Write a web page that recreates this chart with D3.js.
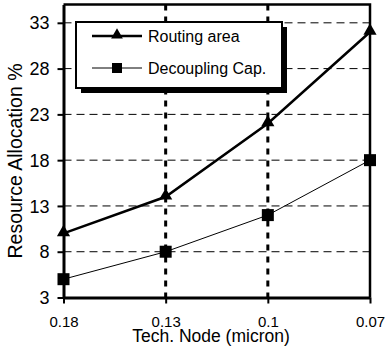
<!DOCTYPE html>
<html>
<head>
<meta charset="UTF-8">
<title></title>
<style>
  body{ margin:0; background:#fff; }
  svg text{ font-family: 'Liberation Sans', Arial, sans-serif; fill:#000; }
  .grid-h line{ stroke:#000; stroke-width:1; stroke-dasharray:8,5; }
  .grid-v line{ stroke:#000; stroke-width:3; stroke-dasharray:6,6; }
</style>
</head>
<body>
<script src="https://d3js.org/d3.v7.min.js"></script>
<script>
var nodes = ["0.18", "0.13", "0.1", "0.07"];
var routingArea = [10, 14, 22, 32];
var decouplingCap = [5, 8, 12, 18];
var yTicks = [3, 8, 13, 18, 23, 28, 33];
var seriesNames = ["Routing area", "Decoupling Cap."];

var width = 386, height = 352;
var plotLeft = 63.5, plotRight = 370, plotTop = 4.5, plotBottom = 297.5;

var svg = d3.select("body").append("svg")
    .attr("width", width)
    .attr("height", height);

var x = d3.scalePoint().domain(nodes).range([plotLeft, plotRight]).padding(0);
var y = d3.scaleLinear().domain([3, 35]).range([plotBottom, plotTop]);

// horizontal gridlines
svg.append("g").attr("class", "grid-h")
  .selectAll("line")
  .data(yTicks.filter(function(d) { return d > 3; }))
  .enter().append("line")
    .attr("x1", plotLeft).attr("x2", plotRight)
    .attr("y1", function(d) { return y(d); })
    .attr("y2", function(d) { return y(d); });

// vertical gridlines (inner categories)
svg.append("g").attr("class", "grid-v")
  .selectAll("line")
  .data(nodes.slice(1, -1))
  .enter().append("line")
    .attr("x1", function(d) { return x(d); })
    .attr("x2", function(d) { return x(d); })
    .attr("y1", plotTop).attr("y2", plotBottom);

// plot frame top/right
svg.append("path")
  .attr("d", "M" + plotLeft + "," + plotTop + "H" + plotRight + "V" + plotBottom)
  .attr("fill", "none").attr("stroke", "#000").attr("stroke-width", 2.5);

// axes
var yAxis = svg.append("g")
  .attr("transform", "translate(" + plotLeft + ",0)")
  .call(d3.axisLeft(y).tickValues(yTicks).tickSize(6).tickPadding(8).tickSizeOuter(0));
yAxis.select(".domain").attr("stroke-width", 3);
yAxis.selectAll(".tick line").attr("stroke-width", 2);
yAxis.selectAll(".tick text").attr("font-size", "18px").attr("dy", "0.34em");

var xAxis = svg.append("g")
  .attr("transform", "translate(0," + plotBottom + ")")
  .call(d3.axisBottom(x).tickSize(6).tickPadding(13).tickSizeOuter(0));
xAxis.select(".domain").attr("stroke-width", 3);
xAxis.selectAll(".tick line").attr("stroke-width", 2);
xAxis.selectAll(".tick text").attr("font-size", "15px").attr("dy", "0.71em");

svg.selectAll(".domain, .tick line").attr("stroke", "#000");

// axis titles
svg.append("text")
  .attr("x", 211).attr("y", 341.5)
  .attr("text-anchor", "middle")
  .attr("font-size", "17.5px")
  .text("Tech. Node (micron)");

svg.append("text")
  .attr("transform", "translate(22," + 161 + ") rotate(-90)")
  .attr("text-anchor", "middle")
  .attr("font-size", "19.5px")
  .text("Resource Allocation %");

// legend
var lg = svg.append("g").attr("transform", "translate(76,22)");
lg.append("rect").attr("x", 5).attr("y", 5).attr("width", 206).attr("height", 66).attr("fill", "#000");
lg.append("rect").attr("width", 206).attr("height", 66).attr("fill", "#fff")
  .attr("stroke", "#000").attr("stroke-width", 2);

var tri = d3.symbol().type(d3.symbolTriangle);

lg.append("line").attr("x1", 16).attr("x2", 66).attr("y1", 14).attr("y2", 14)
  .attr("stroke", "#000").attr("stroke-width", 2.5);
lg.append("path").attr("d", tri.size(60)()).attr("transform", "translate(41,13)");
lg.append("text").attr("x", 72).attr("y", 19.5).attr("font-size", "16px").text(seriesNames[0]);

lg.append("line").attr("x1", 16).attr("x2", 66).attr("y1", 46).attr("y2", 46)
  .attr("stroke", "#000").attr("stroke-width", 1);
lg.append("rect").attr("x", 36).attr("y", 41).attr("width", 10).attr("height", 10);
lg.append("text").attr("x", 72).attr("y", 51.5).attr("font-size", "16px").text(seriesNames[1]);

// series
var line = d3.line()
  .x(function(d, i) { return x(nodes[i]); })
  .y(function(d) { return y(d); });

svg.append("path").datum(decouplingCap)
  .attr("d", line).attr("fill", "none").attr("stroke", "#000").attr("stroke-width", 1);
svg.append("path").datum(routingArea)
  .attr("d", line).attr("fill", "none").attr("stroke", "#000").attr("stroke-width", 2.5);

svg.append("g").selectAll("path")
  .data(routingArea)
  .enter().append("path")
    .attr("d", tri.size(75)())
    .attr("transform", function(d, i) { return "translate(" + x(nodes[i]) + "," + (y(d) - 1) + ")"; });

svg.append("g").selectAll("rect")
  .data(decouplingCap)
  .enter().append("rect")
    .attr("x", function(d, i) { return x(nodes[i]) - 6; })
    .attr("y", function(d) { return y(d) - 6; })
    .attr("width", 12).attr("height", 12);
</script>
</body>
</html>
